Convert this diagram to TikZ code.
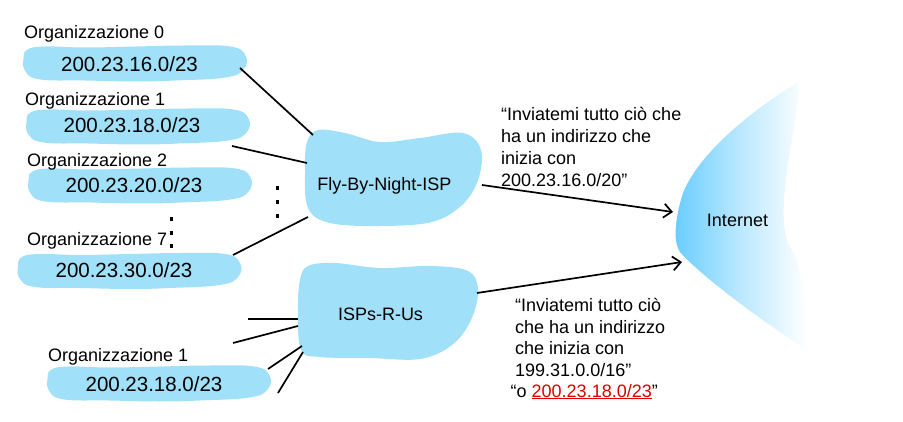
\documentclass[tikz,border=0pt]{standalone}
\usepackage{fontspec}
\setmainfont{Liberation Sans}
\usetikzlibrary{arrows.meta}
\definecolor{blobc}{RGB}{160,224,248}
\definecolor{inetc}{RGB}{102,204,255}
\definecolor{redc}{RGB}{220,0,0}
\newcommand{\lblfont}{\fontsize{18}{21.7}\selectfont}
\newcommand{\ipfont}{\fontsize{20.5}{24}\selectfont}
\begin{document}
\begin{tikzpicture}[x=1pt,y=-1pt,
  brush/.pic={\fill[blobc] plot[smooth cycle,tension=0.7] coordinates {(-108,-14) (-90,-17) (-50,-16) (0,-17) (50,-18) (95,-17) (110,-8) (108,6) (90,14) (40,17) (0,18) (-50,17) (-95,16) (-110,8) (-112,-5)};},
  orglabel/.style={font=\lblfont, anchor=base west, inner sep=0pt},
  iplabel/.style={font=\ipfont, anchor=base, inner sep=0pt},
  isplabel/.style={font=\lblfont, anchor=base, inner sep=0pt},
  link/.style={line width=1.7pt},
  adv/.style={line width=1.7pt, -{Straight Barb[length=8pt,width=14pt,line width=1.7pt]}},
  quotetext/.style={font=\lblfont, align=left, anchor=north west, inner sep=0pt},
  dotmark/.style={fill=black}
]
\useasboundingbox (0,0) rectangle (903,422);

% Internet cloud
\shade[left color=inetc, right color=white, middle color=inetc!45]
  (797,83) .. controls (760,105) and (700,150) .. (683,193)
  .. controls (676,215) and (672,240) .. (680,252)
  .. controls (700,275) and (760,320) .. (807,350)
  .. controls (806,300) and (802,265) .. (792,250)
  .. controls (780,235) and (783,200) .. (788,165)
  .. controls (793,130) and (802,88) .. (797,83) -- cycle;
\node[isplabel] (inet) at (737.5,227) {Internet};

% Organisation blobs
\pic at (135.5,63.5) {brush};
\pic at (138.5,126.5) {brush};
\pic at (140.5,185.5) {brush};
\pic at (130,271) {brush};
\pic at (159.5,383.5) {brush};

% ISP clouds
\fill[blobc] plot[smooth cycle,tension=0.6] coordinates {(318,130) (345,133) (380,142) (420,138) (463,133) (481,150) (478,180) (462,205) (432,222) (380,226) (330,223) (308,208) (305,170) (307,142)};
\fill[blobc] plot[smooth cycle,tension=0.6] coordinates {(308,266) (335,263) (380,268) (430,266) (468,271) (478,290) (471,320) (452,345) (420,359) (370,358) (320,357) (301,350) (298,310) (300,280)};

\node[isplabel] (fly) at (384.5,191) {Fly-By-Night-ISP};
\node[isplabel] (isps) at (380.5,321) {ISPs-R-Us};

% Organisation labels
\node[orglabel] (org0) at (24,39) {Organizzazione 0};
\node[iplabel] (ip0) at (129.5,72) {200.23.16.0/23};
\node[orglabel] (org1) at (25,106) {Organizzazione 1};
\node[iplabel] (ip1) at (132,133) {200.23.18.0/23};
\node[orglabel] (org2) at (27,166.5) {Organizzazione 2};
\node[iplabel] (ip2) at (134,193) {200.23.20.0/23};
\node[orglabel] (org7) at (27,246) {Organizzazione 7};
\node[iplabel] (ip7) at (124,278) {200.23.30.0/23};
\node[orglabel] (orgb) at (48,362) {Organizzazione 1};
\node[iplabel] (ipb) at (154,391) {200.23.18.0/23};

% dots
\foreach \yy in {219,233,246} \fill[dotmark] (169.5,\yy-1.8) rectangle (172.5,\yy+1.8);
\foreach \yy in {188,202,216} \fill[dotmark] (275.5,\yy-1.8) rectangle (278.5,\yy+1.8);

% connector end points
\coordinate (o0e) at (240,68);
\coordinate (f0) at (313,135);
\coordinate (o1e) at (232,146);
\coordinate (f1) at (307,163);
\coordinate (o7e) at (233,255);
\coordinate (f7) at (308,217);
\coordinate (fr) at (482,185);
\coordinate (ia) at (673,212);
\coordinate (ir) at (477,293);
\coordinate (ib) at (682,262);
\coordinate (l1a) at (248,319);
\coordinate (l1b) at (298,319);
\coordinate (l2a) at (233,343);
\coordinate (l2b) at (298,326);
\coordinate (l3a) at (268,369);
\coordinate (l3b) at (302,346);
\coordinate (l4a) at (278,393);
\coordinate (l4b) at (303,352);

\draw[link] (o0e) -- (f0);
\draw[link] (o1e) -- (f1);
\draw[link] (o7e) -- (f7);
\draw[link] (l1a) -- (l1b);
\draw[link] (l2a) -- (l2b);
\draw[link] (l3a) -- (l3b);
\draw[link] (l4a) -- (l4b);
\draw[adv] (fr) -- (ia);
\draw[adv] (ir) -- (ib);

% advertisement texts
\node[quotetext] (q1) at (501,107.5) {“Inviatemi tutto ciò che\\ha un indirizzo che\\inizia con\\200.23.16.0/20”};
\node[quotetext] (q2) at (515,298) {“Inviatemi tutto ciò\\che ha un indirizzo\\che inizia con\\199.31.0.0/16”};
\node[font=\lblfont, anchor=base west, inner sep=0pt] (q3) at (510.5,397) {“o \textcolor{redc}{\underline{200.23.18.0/23}}”};
\end{tikzpicture}
\end{document}
